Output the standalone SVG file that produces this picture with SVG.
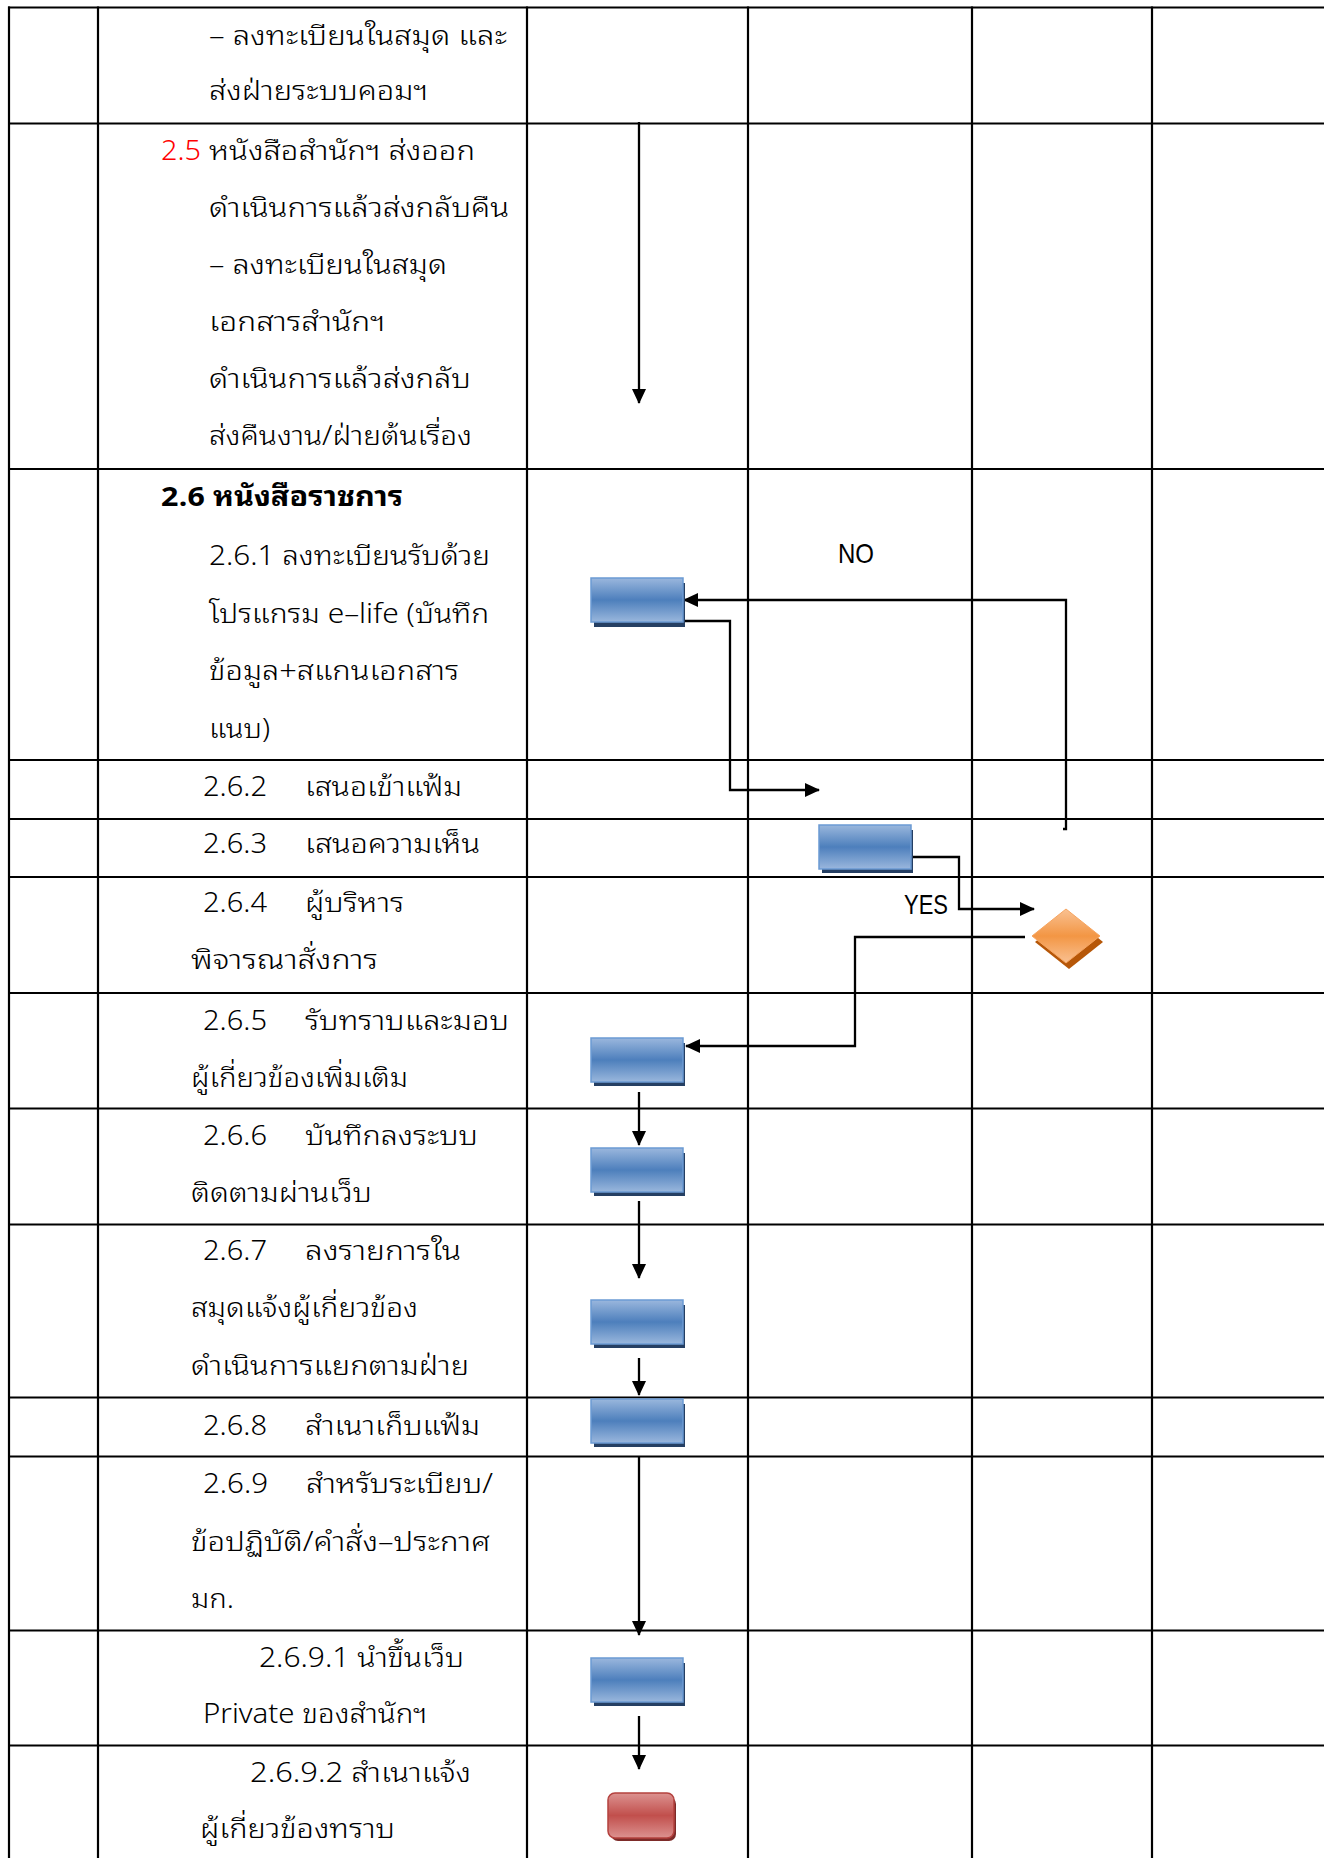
<svg xmlns="http://www.w3.org/2000/svg" width="1324" height="1858" viewBox="0 0 1324 1858">
<defs>
<style>
.grid line{stroke:#000;stroke-width:2.2}
.t{font-family:"Noto Sans Thai Looped","Noto Sans Thai","Noto Sans","DejaVu Sans",sans-serif;font-size:27px;font-weight:300;fill:#000}
.b{font-weight:bold}
.lbl{font-family:"Liberation Sans","DejaVu Sans",sans-serif;font-size:28px;fill:#000}
.con{fill:none;stroke:#000;stroke-width:2.3}
.box{fill:url(#gBlue);stroke:#6b9ad3;stroke-width:1.5}
.sh{fill:#253f63}
</style>
<linearGradient id="gBlue" x1="0" y1="0" x2="0" y2="1">
<stop offset="0" stop-color="#9ab7dd"/>
<stop offset="0.5" stop-color="#4d7fbc"/>
<stop offset="1" stop-color="#9ab7dd"/>
</linearGradient>
<linearGradient id="gRed" x1="0" y1="0" x2="0" y2="1">
<stop offset="0" stop-color="#dc9290"/>
<stop offset="0.5" stop-color="#c14f4c"/>
<stop offset="1" stop-color="#dc9290"/>
</linearGradient>
<linearGradient id="gOr" x1="0" y1="0" x2="0" y2="1">
<stop offset="0" stop-color="#f9c192"/>
<stop offset="0.5" stop-color="#f39644"/>
<stop offset="1" stop-color="#f9c192"/>
</linearGradient>
<marker id="ah" viewBox="0 0 15 14" refX="14" refY="7" markerWidth="15" markerHeight="14" markerUnits="userSpaceOnUse" orient="auto">
<path d="M0,0 L15,7 L0,14 z" fill="#000"/>
</marker>
</defs>
<rect width="1324" height="1858" fill="#fff"/>
<g class="grid">
<line x1="8" y1="7.5" x2="1324" y2="7.5"/>
<line x1="8" y1="123.5" x2="1324" y2="123.5"/>
<line x1="8" y1="469" x2="1324" y2="469"/>
<line x1="8" y1="760" x2="1324" y2="760"/>
<line x1="8" y1="819" x2="1324" y2="819"/>
<line x1="8" y1="877" x2="1324" y2="877"/>
<line x1="8" y1="993" x2="1324" y2="993"/>
<line x1="8" y1="1108.5" x2="1324" y2="1108.5"/>
<line x1="8" y1="1224.5" x2="1324" y2="1224.5"/>
<line x1="8" y1="1397.5" x2="1324" y2="1397.5"/>
<line x1="8" y1="1456.5" x2="1324" y2="1456.5"/>
<line x1="8" y1="1630.5" x2="1324" y2="1630.5"/>
<line x1="8" y1="1745.5" x2="1324" y2="1745.5"/>
<line x1="9" y1="6.5" x2="9" y2="1858"/>
<line x1="98" y1="6.5" x2="98" y2="1858"/>
<line x1="527" y1="6.5" x2="527" y2="1858"/>
<line x1="748" y1="6.5" x2="748" y2="1858"/>
<line x1="972" y1="6.5" x2="972" y2="1858"/>
<line x1="1152" y1="6.5" x2="1152" y2="1858"/>
</g>
<g id="texts">
<text class="t" x="209" y="45" textLength="298" lengthAdjust="spacingAndGlyphs">– ลงทะเบียนในสมุด และ</text>
<text class="t" x="209" y="100" textLength="219" lengthAdjust="spacingAndGlyphs">ส่งฝ่ายระบบคอมฯ</text>
<text class="t" x="161" y="160" fill="#ff0000" style="fill:#ff0000" textLength="40" lengthAdjust="spacingAndGlyphs">2.5</text>
<text class="t" x="209" y="160" textLength="266" lengthAdjust="spacingAndGlyphs">หนังสือสำนักฯ ส่งออก</text>
<text class="t" x="209" y="217" textLength="300" lengthAdjust="spacingAndGlyphs">ดำเนินการแล้วส่งกลับคืน</text>
<text class="t" x="209" y="274" textLength="238" lengthAdjust="spacingAndGlyphs">– ลงทะเบียนในสมุด</text>
<text class="t" x="209" y="331" textLength="176" lengthAdjust="spacingAndGlyphs">เอกสารสำนักฯ</text>
<text class="t" x="209" y="388" textLength="262" lengthAdjust="spacingAndGlyphs">ดำเนินการแล้วส่งกลับ</text>
<text class="t" x="209" y="445" textLength="263" lengthAdjust="spacingAndGlyphs">ส่งคืนงาน/ฝ่ายต้นเรื่อง</text>
<text class="t b" x="161" y="506" textLength="242" lengthAdjust="spacingAndGlyphs">2.6 หนังสือราชการ</text>
<text class="t" x="209" y="565" textLength="281" lengthAdjust="spacingAndGlyphs">2.6.1 ลงทะเบียนรับด้วย</text>
<text class="t" x="209" y="623" textLength="280" lengthAdjust="spacingAndGlyphs">โปรแกรม e–life (บันทึก</text>
<text class="t" x="209" y="680" textLength="250" lengthAdjust="spacingAndGlyphs">ข้อมูล+สแกนเอกสาร</text>
<text class="t" x="209" y="738" textLength="61" lengthAdjust="spacingAndGlyphs">แนบ)</text>
<text class="t" x="203" y="796" textLength="64" lengthAdjust="spacingAndGlyphs">2.6.2</text>
<text class="t" x="305" y="796" textLength="157" lengthAdjust="spacingAndGlyphs">เสนอเข้าแฟ้ม</text>
<text class="t" x="203" y="853" textLength="64" lengthAdjust="spacingAndGlyphs">2.6.3</text>
<text class="t" x="305" y="853" textLength="175" lengthAdjust="spacingAndGlyphs">เสนอความเห็น</text>
<text class="t" x="203" y="912" textLength="64" lengthAdjust="spacingAndGlyphs">2.6.4</text>
<text class="t" x="305" y="912" textLength="99" lengthAdjust="spacingAndGlyphs">ผู้บริหาร</text>
<text class="t" x="191" y="969" textLength="187" lengthAdjust="spacingAndGlyphs">พิจารณาสั่งการ</text>
<text class="t" x="203" y="1030" textLength="64" lengthAdjust="spacingAndGlyphs">2.6.5</text>
<text class="t" x="305" y="1030" textLength="204" lengthAdjust="spacingAndGlyphs">รับทราบและมอบ</text>
<text class="t" x="191" y="1087" textLength="217" lengthAdjust="spacingAndGlyphs">ผู้เกี่ยวข้องเพิ่มเติม</text>
<text class="t" x="203" y="1145" textLength="64" lengthAdjust="spacingAndGlyphs">2.6.6</text>
<text class="t" x="305" y="1145" textLength="173" lengthAdjust="spacingAndGlyphs">บันทึกลงระบบ</text>
<text class="t" x="191" y="1202" textLength="181" lengthAdjust="spacingAndGlyphs">ติดตามผ่านเว็บ</text>
<text class="t" x="203" y="1260" textLength="64" lengthAdjust="spacingAndGlyphs">2.6.7</text>
<text class="t" x="305" y="1260" textLength="156" lengthAdjust="spacingAndGlyphs">ลงรายการใน</text>
<text class="t" x="191" y="1317" textLength="227" lengthAdjust="spacingAndGlyphs">สมุดแจ้งผู้เกี่ยวข้อง</text>
<text class="t" x="191" y="1375" textLength="278" lengthAdjust="spacingAndGlyphs">ดำเนินการแยกตามฝ่าย</text>
<text class="t" x="203" y="1435" textLength="64" lengthAdjust="spacingAndGlyphs">2.6.8</text>
<text class="t" x="305" y="1435" textLength="175" lengthAdjust="spacingAndGlyphs">สำเนาเก็บแฟ้ม</text>
<text class="t" x="203" y="1493" textLength="65" lengthAdjust="spacingAndGlyphs">2.6.9</text>
<text class="t" x="306" y="1493" textLength="187" lengthAdjust="spacingAndGlyphs">สำหรับระเบียบ/</text>
<text class="t" x="191" y="1551" textLength="299" lengthAdjust="spacingAndGlyphs">ข้อปฏิบัติ/คำสั่ง–ประกาศ</text>
<text class="t" x="191" y="1608" textLength="43" lengthAdjust="spacingAndGlyphs">มก.</text>
<text class="t" x="259" y="1667" textLength="205" lengthAdjust="spacingAndGlyphs">2.6.9.1 นำขึ้นเว็บ</text>
<text class="t" x="203" y="1723" textLength="224" lengthAdjust="spacingAndGlyphs">Private ของสำนักฯ</text>
<text class="t" x="250" y="1782" textLength="221" lengthAdjust="spacingAndGlyphs">2.6.9.2 สำเนาแจ้ง</text>
<text class="t" x="200" y="1838" textLength="195" lengthAdjust="spacingAndGlyphs">ผู้เกี่ยวข้องทราบ</text>
<text class="lbl" x="838" y="563" textLength="36" lengthAdjust="spacingAndGlyphs">NO</text>
<text class="lbl" x="904" y="914" textLength="44" lengthAdjust="spacingAndGlyphs">YES</text>
</g>
<g id="connectors">
<path class="con" d="M639,122 V403" marker-end="url(#ah)"/>
<path class="con" d="M1063,829 H1066 V600 H684" marker-end="url(#ah)"/>
<path class="con" d="M638,621 H730 V790 H819" marker-end="url(#ah)"/>
<path class="con" d="M913,857 H959 V909 H1034" marker-end="url(#ah)"/>
<path class="con" d="M1025,937 H855 V1046 H686" marker-end="url(#ah)"/>
<path class="con" d="M639,1092 V1145" marker-end="url(#ah)"/>
<path class="con" d="M639,1201 V1278" marker-end="url(#ah)"/>
<path class="con" d="M639,1358 V1395" marker-end="url(#ah)"/>
<path class="con" d="M639,1457 V1635" marker-end="url(#ah)"/>
<path class="con" d="M639,1716 V1769" marker-end="url(#ah)"/>
</g>
<g id="n261"><rect class="sh" x="594" y="583" width="91" height="44"/><rect class="box" x="591" y="578" width="92" height="44"/></g>
<g id="n263"><rect class="sh" x="822" y="830" width="91" height="43"/><rect class="box" x="819" y="825" width="92" height="44"/></g>
<g id="decision"><path d="M1069,914 L1103,942 L1069,969 L1035,942 z" fill="#b65708"/><path d="M1066,909 L1100,936 L1066,963 L1032,936 z" fill="url(#gOr)" stroke="#f7a560" stroke-width="1"/></g>
<g id="n265"><rect class="sh" x="594" y="1043" width="91" height="43"/><rect class="box" x="591" y="1038" width="92" height="44"/></g>
<g id="n266"><rect class="sh" x="594" y="1153" width="91" height="43"/><rect class="box" x="591" y="1148" width="92" height="44"/></g>
<g id="n267"><rect class="sh" x="594" y="1305" width="91" height="43"/><rect class="box" x="591" y="1300" width="92" height="44"/></g>
<g id="n268"><rect class="sh" x="594" y="1404" width="91" height="43"/><rect class="box" x="591" y="1399" width="92" height="44"/></g>
<g id="n2691"><rect class="sh" x="594" y="1663" width="91" height="43"/><rect class="box" x="591" y="1658" width="92" height="44"/></g>
<g id="n2692"><rect x="611" y="1797" width="65" height="44" rx="7" fill="#7d2b29"/><rect x="608" y="1793" width="66" height="45" rx="7" fill="url(#gRed)" stroke="#b4413e" stroke-width="1.5"/></g>
</svg>
